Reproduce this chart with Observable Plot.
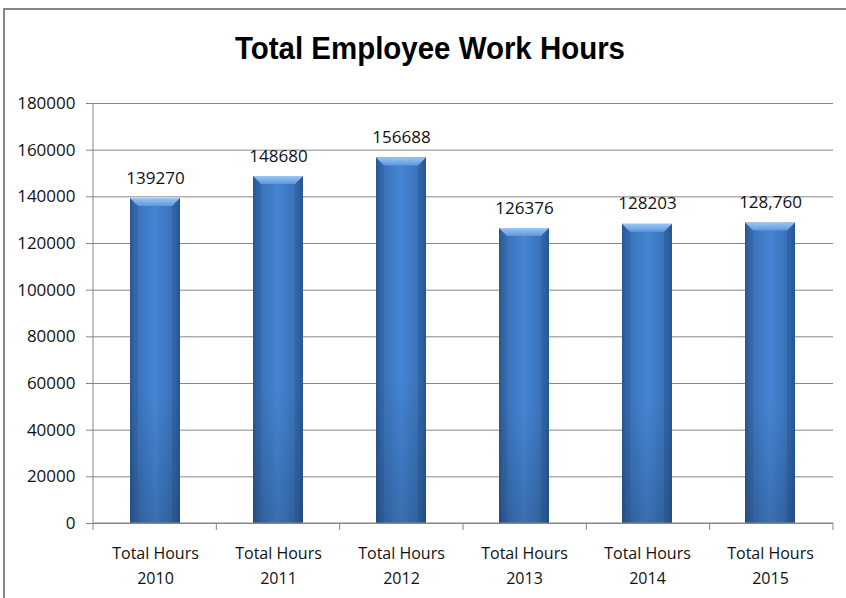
<!DOCTYPE html>
<html><head><meta charset="utf-8">
<script src="https://cdn.jsdelivr.net/npm/d3@7"></script>
<script src="https://cdn.jsdelivr.net/npm/@observablehq/plot@0.6"></script>
<style>
html,body{margin:0;padding:0;background:#fff;}
#wrap{position:relative;width:846px;height:598px;overflow:hidden;background:#fff;}
#frame{position:absolute;left:3px;top:8px;width:900px;height:700px;border-top:2px solid #868686;border-left:2px solid #868686;}
#title{position:absolute;left:0;top:33px;width:860px;text-align:center;font-family:"Liberation Sans","Arial",sans-serif;font-weight:bold;font-size:31px;line-height:31px;color:#000;transform:scaleX(0.95);transform-origin:430px 0;}
#chart{position:absolute;left:0;top:0;}
</style>
</head><body>
<div id="wrap"><div id="frame"></div><div id="chart"></div><div id="title">Total Employee Work Hours</div></div>
<script>
const categories = ["Total Hours\n2010","Total Hours\n2011","Total Hours\n2012","Total Hours\n2013","Total Hours\n2014","Total Hours\n2015"];
const hours = [139270,148680,156688,126376,128203,128760];
const valueLabels = ["139270","148680","156688","126376","128203","128,760"];
const yTicks = [0,20000,40000,60000,80000,100000,120000,140000,160000,180000];

const data = categories.map((c,i)=>({category:c, hours:hours[i], label:valueLabels[i]}));

function defsMark() {
  const g = d3.create("svg:g");
  const defs = g.append("defs");
  const bg = defs.append("linearGradient").attr("id","barGrad").attr("x1","0").attr("x2","1").attr("y1","0").attr("y2","0");
  [["0%","#2c5b96"],["10%","#386fb5"],["50%","#4585d3"],["90%","#386fb5"],["100%","#2c5b96"]].forEach(([o,c])=>bg.append("stop").attr("offset",o).attr("stop-color",c));
  const vg = defs.append("linearGradient").attr("id","shadeGrad").attr("x1","0").attr("x2","0").attr("y1","0").attr("y2","1");
  [["0%","#000",0],["60%","#000",0.0],["100%","#000",0.16]].forEach(([o,c,a])=>vg.append("stop").attr("offset",o).attr("stop-color",c).attr("stop-opacity",a));
  const tg = defs.append("linearGradient").attr("id","topGrad").attr("x1","0").attr("x2","0").attr("y1","0").attr("y2","1");
  [["0%","#9ac6f6"],["100%","#5e97de"]].forEach(([o,c])=>tg.append("stop").attr("offset",o).attr("stop-color",c));
  return g.node();
}

function bandInfo(scales, dims) {
  const n = categories.length;
  const step = (dims.width - dims.marginLeft - dims.marginRight) / n;
  let bw = scales.x.bandwidth;
  if (typeof bw === "function") bw = bw();
  if (!bw) bw = step * 0.41;
  return {step, bw};
}

function bevelMark(index, scales, values, dims) {
  const {bw} = bandInfo(scales, dims);
  const g = d3.create("svg:g");
  const y0b = scales.y(0);
  data.forEach(d => {
    const x0 = scales.x(d.category), x1 = x0 + bw, y0 = scales.y(d.hours), b = 8;
    g.append("rect").attr("x",x0).attr("y",y0).attr("width",bw).attr("height",y0b-y0).attr("fill","url(#shadeGrad)");
    g.append("polygon").attr("points",`${x0},${y0} ${x0+b},${y0+b} ${x0+b},${y0b} ${x0},${y0b}`).attr("fill","#1f4a80").attr("fill-opacity",0.22);
    g.append("polygon").attr("points",`${x1},${y0} ${x1-b},${y0+b} ${x1-b},${y0b} ${x1},${y0b}`).attr("fill","#1f4a80").attr("fill-opacity",0.3);
    g.append("polygon").attr("points",`${x0},${y0} ${x1},${y0} ${x1-b},${y0+b} ${x0+b},${y0+b}`).attr("fill","url(#topGrad)");
  });
  return g.node();
}

function yAxisLine(index, scales, values, dims) {
  const g = d3.create("svg:g").attr("stroke","#868686");
  g.append("line").attr("x1",dims.marginLeft).attr("x2",dims.marginLeft)
    .attr("y1",scales.y(yTicks[yTicks.length-1])).attr("y2",scales.y(0));
  return g.node();
}

function xAxisLine(index, scales, values, dims) {
  const {step} = bandInfo(scales, dims);
  const y0 = scales.y(0);
  const g = d3.create("svg:g").attr("stroke","#868686");
  g.append("line").attr("x1",dims.marginLeft).attr("x2",dims.width-dims.marginRight).attr("y1",y0).attr("y2",y0);
  for (let k = 0; k <= categories.length; k++) {
    const xx = dims.marginLeft + k*step;
    g.append("line").attr("x1",xx).attr("x2",xx).attr("y1",y0).attr("y2",y0+7);
  }
  return g.node();
}

const chart = Plot.plot({
  width: 846, height: 598,
  marginLeft: 93, marginRight: 13, marginTop: 103, marginBottom: 75,
  style: {fontFamily: "'Open Sans', sans-serif", fontSize: "16px", color: "#111", background: "transparent", overflow: "visible"},
  x: {domain: categories, paddingInner: 0.59, paddingOuter: 0.295, axis: null},
  y: {domain: [0, 180000], axis: null},
  marks: [
    defsMark,
    Plot.gridY(yTicks, {stroke: "#868686", strokeOpacity: 1}),
    yAxisLine,
    Plot.axisY(yTicks, {tickSize: 7, tickPadding: 11, stroke: "#868686", strokeOpacity: 1, tickFormat: d => String(d), fontSize: 17, label: null}),
    Plot.barY(data, {x: "category", y: "hours", fill: "url(#barGrad)"}),
    bevelMark,
    Plot.text(data, {x: "category", y: "hours", text: "label", dy: -15, lineAnchor: "bottom", fontSize: 17, fill: "#111"}),
    xAxisLine,
    Plot.axisX({tickSize: 0, tickPadding: 17, lineHeight: 1.6, fontSize: 16, label: null})
  ]
});
document.getElementById("chart").appendChild(chart);
</script>
</body></html>
